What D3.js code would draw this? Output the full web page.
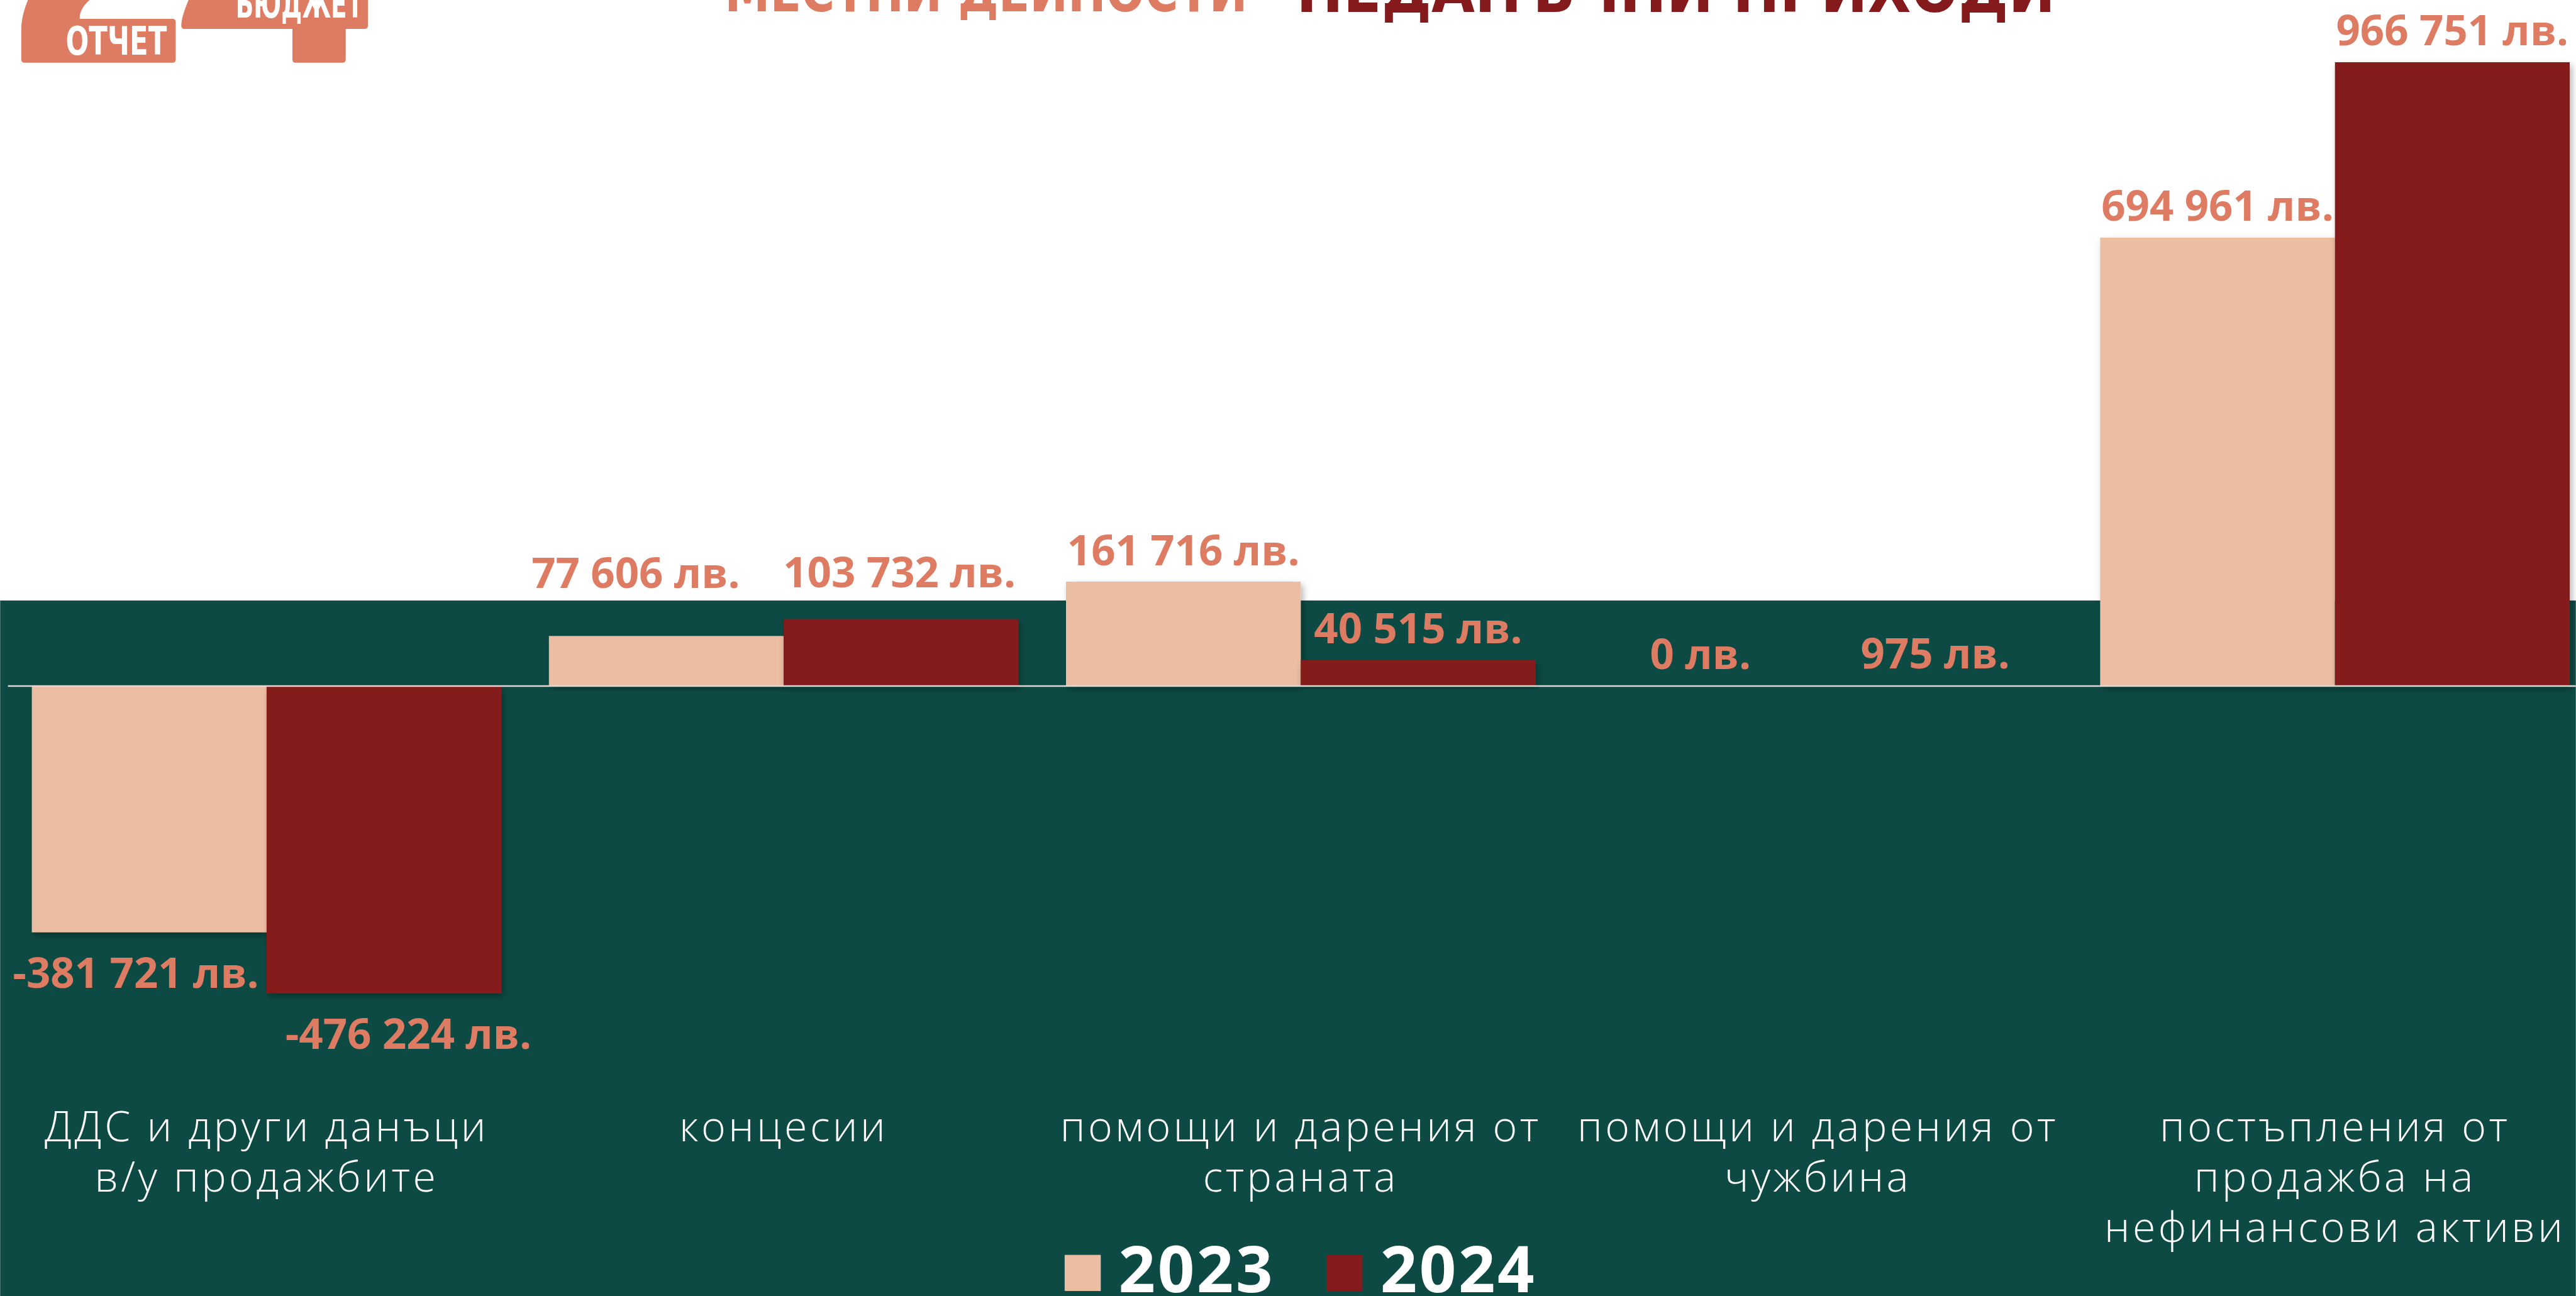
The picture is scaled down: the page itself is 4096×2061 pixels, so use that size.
<!DOCTYPE html>
<html>
<head>
<meta charset="utf-8">
<script src="https://cdn.jsdelivr.net/npm/d3@7"></script>
<style>
  html, body { margin: 0; padding: 0; background: #ffffff; overflow: hidden; }
  svg { display: block; }
</style>
</head>
<body>
<div id="chart"></div>
<script>
// ---------------- DATA ----------------
const categories = [
  "ДДС и други данъци\nв/у продажбите",
  "концесии",
  "помощи и дарения от\nстраната",
  "помощи и дарения от\nчужбина",
  "постъпления от\nпродажба на\nнефинансови активи"
];
const series = ["2023", "2024"];
const values2023 = [-381721, 77606, 161716, 0, 694961];
const values2024 = [-476224, 103732, 40515, 975, 966751];
const legendLabels = ["2023", "2024"];
const titleParts = ["МЕСТНИ ДЕЙНОСТИ", "НЕДАНЪЧНИ ПРИХОДИ"];
const logoWords = ["ОТЧЕТ", "БЮДЖЕТ"];

// ---------------- STYLE ----------------
const W = 4636, H = 2333;          // reference coordinate system
const OUT_W = 4096, OUT_H = 2061;  // window
const colors = { "2023": "#EBBDA3", "2024": "#841A1B" };
const labelColor = "#DE7C63";
const titleColors = ["#DE7C63", "#841A1B"];
const greenBg = "#0D4A43";
const greenTop = 1081;
// manual label nudges (reference px), keyed series|categoryIndex
const labelNudge = {
  "2023|0": { dx: -24, dy: 0 },
  "2024|0": { dx: 44, dy: 0 },
  "2023|1": { dx: -55, dy: -57 },
  "2024|1": { dx: -3, dy: -27 }
};

const valuesBySeries = { "2023": values2023, "2024": values2024 };
const rows = [];
series.forEach(s => valuesBySeries[s].forEach((v, i) => rows.push({ s, i, cat: categories[i], v })));

const svg = d3.select("#chart").append("svg")
  .attr("width", OUT_W).attr("height", OUT_H)
  .attr("viewBox", `0 0 ${W} ${H}`);

const defs = svg.append("defs");
const f = defs.append("filter").attr("id", "shadow")
  .attr("x", "-5%").attr("y", "-5%").attr("width", "115%").attr("height", "115%");
f.append("feDropShadow").attr("dx", 4).attr("dy", 6).attr("stdDeviation", 6)
  .attr("flood-color", "#000").attr("flood-opacity", 0.3);

// backgrounds
svg.append("rect").attr("x", 0).attr("y", 0).attr("width", W).attr("height", H).attr("fill", "#ffffff");
svg.append("rect").attr("x", 0).attr("y", greenTop).attr("width", W).attr("height", H - greenTop).attr("fill", greenBg);

// ---------------- SCALES ----------------
const x0 = d3.scaleBand().domain(categories).range([57, 4625]).paddingInner(0.0919).paddingOuter(0);
const x1 = d3.scaleBand().domain(series).range([0, x0.bandwidth()]).padding(0);
const y = d3.scaleLinear().domain([-600000, 1000000]).range([1235 + 600000 * 0.0011616, 1235 - 1000000 * 0.0011616]);

const loc = d3.formatLocale({ decimal: ",", thousands: " ", grouping: [3], currency: ["", ""], minus: "-" });
const fmt = v => loc.format(",")(v) + " лв.";

// ---------------- BARS ----------------
svg.append("g").selectAll("rect").data(rows).join("rect")
  .attr("x", d => x0(d.cat) + x1(d.s))
  .attr("width", x1.bandwidth())
  .attr("y", d => Math.min(y(d.v), y(0)))
  .attr("height", d => Math.abs(y(d.v) - y(0)))
  .attr("fill", d => colors[d.s])
  .attr("filter", "url(#shadow)");

// zero axis line
svg.append("line")
  .attr("x1", x0.range()[0] - 43).attr("x2", W)
  .attr("y1", y(0)).attr("y2", y(0))
  .attr("stroke", "#E3D8D2").attr("stroke-width", 3);

// ---------------- VALUE LABELS ----------------
svg.append("g").selectAll("text").data(rows).join("text")
  .attr("x", d => x0(d.cat) + x1(d.s) + x1.bandwidth() / 2 + ((labelNudge[d.s + "|" + d.i] || {}).dx || 0))
  .attr("y", d => (d.v >= 0 ? y(d.v) - 30 : y(d.v) + 100) + ((labelNudge[d.s + "|" + d.i] || {}).dy || 0))
  .attr("text-anchor", "middle")
  .attr("font-family", "'Open Sans', 'Noto Sans', sans-serif")
  .attr("font-weight", 700)
  .attr("font-size", 76)
  .attr("fill", labelColor)
  .text(d => fmt(d.v));

// ---------------- CATEGORY LABELS ----------------
const catG = svg.append("g");
categories.forEach(c => {
  const cx = x0(c) + x0.bandwidth() / 2;
  c.split("\n").forEach((line, k) => {
    catG.append("text")
      .attr("x", cx)
      .attr("y", 2054 + k * 91)
      .attr("text-anchor", "middle")
      .attr("font-family", "'Open Sans', 'Noto Sans', sans-serif")
      .attr("font-weight", 300)
      .attr("font-size", 75)
      .attr("letter-spacing", 5)
      .attr("fill", "#ffffff")
      .text(line);
  });
});

// ---------------- LEGEND ----------------
const legendX = [1916, 2387];
const lg = svg.append("g");
legendLabels.forEach((s, k) => {
  lg.append("rect").attr("x", legendX[k]).attr("y", 2259).attr("width", 65).attr("height", 65).attr("fill", colors[s]);
  lg.append("text").attr("x", legendX[k] + 97).attr("y", 2326)
    .attr("font-family", "'Open Sans', 'Noto Sans', sans-serif")
    .attr("font-weight", 700).attr("font-size", 116).attr("letter-spacing", 4)
    .attr("fill", "#ffffff").text(s);
});

// ---------------- TITLE (cut at top) ----------------
const titleFont = "'Liberation Sans Narrow', 'DejaVu Sans Condensed', 'Liberation Sans', sans-serif";
svg.append("text").attr("x", 1304).attr("y", 20)
  .attr("font-family", titleFont).attr("font-weight", 700).attr("font-size", 100)
  .attr("textLength", 941).attr("lengthAdjust", "spacingAndGlyphs")
  .attr("fill", titleColors[0]).text(titleParts[0]);
svg.append("text").attr("x", 2333).attr("y", 21)
  .attr("font-family", titleFont).attr("font-weight", 700).attr("font-size", 120)
  .attr("textLength", 1366).attr("lengthAdjust", "spacingAndGlyphs")
  .attr("fill", titleColors[1]).text(titleParts[1]);

// ---------------- LOGO ----------------
const logo = svg.append("g").attr("fill", "#DE7C63");
logo.append("path").attr("d",
  "M50,0 C44,15 39,30 38,50 L38,107 Q38,113 44,113 L310,113 Q316,113 316,107 L316,40 Q316,34 310,34 L143,34 C143,20 150,10 161,0 Z");
logo.append("path").attr("d",
  "M339,0 C333,15 327,30 326,45 L326,46 Q326,52 332,52 L526,52 L526,107 Q526,113 532,113 L616,113 Q622,113 622,107 L622,52 L656,52 Q662,52 662,46 L662,0 Z");
logo.append("text").attr("x", 118).attr("y", 99)
  .attr("font-family", titleFont).attr("font-weight", 700).attr("font-size", 71)
  .attr("textLength", 182).attr("lengthAdjust", "spacingAndGlyphs")
  .attr("fill", "#ffffff").text(logoWords[0]);
logo.append("text").attr("x", 424).attr("y", 32)
  .attr("font-family", titleFont).attr("font-weight", 700).attr("font-size", 71)
  .attr("textLength", 229).attr("lengthAdjust", "spacingAndGlyphs")
  .attr("fill", "#ffffff").text(logoWords[1]);
</script>
</body>
</html>
